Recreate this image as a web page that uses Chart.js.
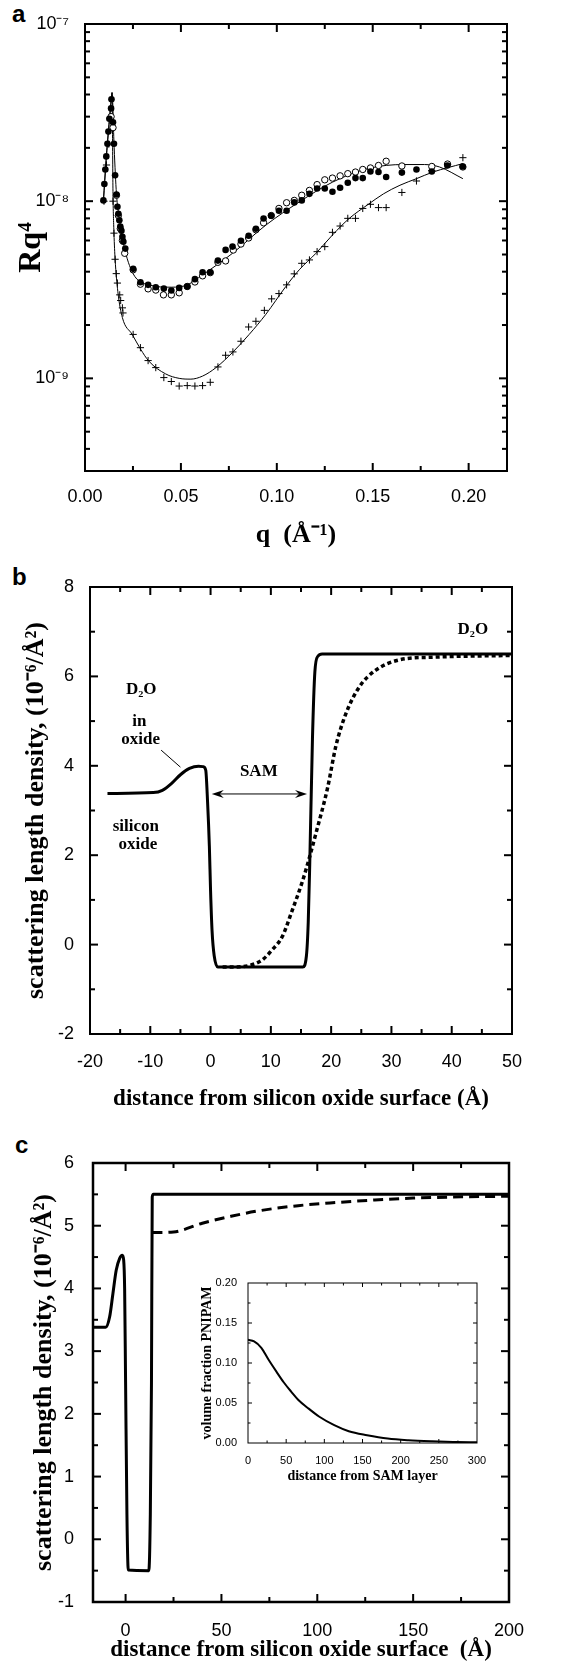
<!DOCTYPE html>
<html>
<head>
<meta charset="utf-8">
<script src="https://cdn.jsdelivr.net/npm/chart.js@4.4.1/dist/chart.umd.min.js"></script>
<style>
  html, body { margin: 0; padding: 0; background: #fff; overflow: hidden; width: 584px; height: 1661px; }
  canvas { position: absolute; }
  .tag { position: absolute; font: bold 24px "Liberation Sans", Arial, sans-serif; line-height: 24px; }
</style>
</head>
<body>
<div class="tag" style="left:12px;top:2px">a</div>
<div class="tag" style="left:12px;top:565px">b</div>
<div class="tag" style="left:15px;top:1133px">c</div>
<canvas id="panelA" width="584" height="560" style="left:0;top:0"></canvas>
<canvas id="panelB" width="584" height="560" style="left:0;top:560px"></canvas>
<canvas id="panelC" width="584" height="560" style="left:0;top:1120px"></canvas>
<canvas id="inset" width="320" height="220" style="left:180px;top:1270px"></canvas>
<script>
/* global Chart */

// ---- panel a : Rq^4 vs q ----
var filledQ = [0.0096, 0.0101, 0.0106, 0.0111, 0.0117, 0.0122, 0.0127, 0.0136, 0.0138, 0.0146, 0.0151, 0.0157, 0.0164, 0.0169, 0.0174, 0.0179, 0.0184, 0.019, 0.0195, 0.02, 0.021, 0.0251, 0.0289, 0.0329, 0.0369, 0.0411, 0.045, 0.0491, 0.0533, 0.0573, 0.0613, 0.0653, 0.0693, 0.0733, 0.0769, 0.0813, 0.0853, 0.0891, 0.0931, 0.0971, 0.1011, 0.1051, 0.1091, 0.113, 0.117, 0.121, 0.125, 0.129, 0.133, 0.137, 0.141, 0.1448, 0.1488, 0.153, 0.157, 0.1652, 0.1728, 0.1808, 0.1889, 0.1969];
var filledR = [1.01e-8, 1.25e-8, 1.51e-8, 1.79e-8, 2.11e-8, 2.47e-8, 2.92e-8, 3.34e-8, 3.76e-8, 2.79e-8, 2.11e-8, 1.40e-8, 1.09e-8, 9.3e-9, 8.5e-9, 7.8e-9, 7.2e-9, 6.8e-9, 6.3e-9, 5.9e-9, 5.4e-9, 4.15e-9, 3.49e-9, 3.37e-9, 3.27e-9, 3.21e-9, 3.13e-9, 3.24e-9, 3.30e-9, 3.63e-9, 3.97e-9, 3.97e-9, 4.62e-9, 5.31e-9, 5.54e-9, 5.98e-9, 6.38e-9, 6.99e-9, 7.99e-9, 8.27e-9, 8.83e-9, 8.83e-9, 9.84e-9, 1.01e-8, 1.10e-8, 1.18e-8, 1.18e-8, 1.13e-8, 1.19e-8, 1.27e-8, 1.35e-8, 1.35e-8, 1.47e-8, 1.46e-8, 1.37e-8, 1.45e-8, 1.51e-8, 1.47e-8, 1.59e-8, 1.57e-8];

var openQ = [0.0136, 0.0146, 0.0164, 0.0174, 0.0184, 0.0195, 0.0207, 0.0251, 0.0289, 0.0329, 0.0369, 0.0409, 0.045, 0.0491, 0.0533, 0.0573, 0.0613, 0.0653, 0.0693, 0.0733, 0.0773, 0.0813, 0.0853, 0.0891, 0.0931, 0.0971, 0.1011, 0.1051, 0.1091, 0.113, 0.117, 0.121, 0.125, 0.129, 0.133, 0.137, 0.141, 0.1448, 0.1488, 0.153, 0.157, 0.1652, 0.1808, 0.189, 0.197];
var openR = [3.0e-8, 2.6e-8, 1.08e-8, 8.3e-9, 7.0e-9, 6.0e-9, 5.08e-9, 4.1e-9, 3.4e-9, 3.2e-9, 3.15e-9, 2.96e-9, 2.96e-9, 3.04e-9, 3.3e-9, 3.5e-9, 3.79e-9, 3.95e-9, 4.52e-9, 4.6e-9, 5.3e-9, 5.73e-9, 6.2e-9, 6.9e-9, 7.55e-9, 8.3e-9, 9.1e-9, 9.8e-9, 1.01e-8, 1.08e-8, 1.15e-8, 1.24e-8, 1.32e-8, 1.35e-8, 1.39e-8, 1.43e-8, 1.46e-8, 1.51e-8, 1.54e-8, 1.59e-8, 1.68e-8, 1.58e-8, 1.57e-8, 1.62e-8, 1.56e-8];

var plusQ = [0.0099, 0.0112, 0.0124, 0.0146, 0.0151, 0.0157, 0.0163, 0.0169, 0.0181, 0.0186, 0.0195, 0.0198, 0.0251, 0.0289, 0.0329, 0.0369, 0.0411, 0.045, 0.0491, 0.0533, 0.0573, 0.0613, 0.0653, 0.0693, 0.0733, 0.0771, 0.0813, 0.0853, 0.0891, 0.0935, 0.0973, 0.1011, 0.1051, 0.1091, 0.113, 0.117, 0.121, 0.125, 0.129, 0.133, 0.137, 0.141, 0.1448, 0.1488, 0.153, 0.157, 0.1652, 0.1728, 0.1808, 0.189, 0.197];
var plusR = [1.0e-8, 1.6e-8, 2.1e-8, 1.0e-8, 6.6e-9, 4.7e-9, 3.9e-9, 3.45e-9, 2.96e-9, 2.75e-9, 2.5e-9, 2.34e-9, 1.77e-9, 1.49e-9, 1.26e-9, 1.15e-9, 1.01e-9, 9.6e-10, 9.05e-10, 9.1e-10, 9.05e-10, 9.1e-10, 9.5e-10, 1.16e-9, 1.35e-9, 1.41e-9, 1.62e-9, 1.95e-9, 2.1e-9, 2.42e-9, 2.81e-9, 3.01e-9, 3.37e-9, 3.89e-9, 4.46e-9, 4.66e-9, 5.19e-9, 5.54e-9, 6.67e-9, 7.24e-9, 8.0e-9, 8.0e-9, 9.1e-9, 9.6e-9, 9.2e-9, 9.2e-9, 1.12e-8, 1.3e-8, 1.49e-8, 1.61e-8, 1.76e-8];

var fitCircleQ = [0.0096, 0.011, 0.0125, 0.0136, 0.0141, 0.0152, 0.0164, 0.0179, 0.0203, 0.0249, 0.0333, 0.0452, 0.0533, 0.0613, 0.0769, 0.0943, 0.1117, 0.129, 0.1477, 0.1664, 0.177, 0.1848, 0.197];
var fitCircleR = [1.0e-8, 1.7e-8, 2.7e-8, 3.6e-8, 4.1e-8, 2.0e-8, 1.1e-8, 8.0e-9, 5.6e-9, 3.93e-9, 3.37e-9, 3.27e-9, 3.37e-9, 3.84e-9, 5.08e-9, 7.33e-9, 9.9e-9, 1.28e-8, 1.53e-8, 1.61e-8, 1.61e-8, 1.56e-8, 1.34e-8];

var fitPlusQ = [0.0096, 0.011, 0.0125, 0.0136, 0.0141, 0.0146, 0.0151, 0.0157, 0.0171, 0.0195, 0.0246, 0.029, 0.0333, 0.042, 0.0491, 0.0552, 0.0613, 0.0683, 0.0769, 0.0856, 0.0943, 0.1047, 0.1117, 0.1204, 0.129, 0.1378, 0.1477, 0.1556, 0.1642, 0.1728, 0.1814, 0.197];
var fitPlusR = [1.0e-8, 1.7e-8, 2.7e-8, 3.7e-8, 4.1e-8, 1.1e-8, 6.6e-9, 4.7e-9, 3.1e-9, 2.2e-9, 1.77e-9, 1.46e-9, 1.25e-9, 1.06e-9, 1.0e-9, 9.9e-10, 1.03e-9, 1.15e-9, 1.4e-9, 1.77e-9, 2.3e-9, 3.3e-9, 4.1e-9, 5.08e-9, 6.44e-9, 8.0e-9, 9.6e-9, 1.1e-8, 1.23e-8, 1.34e-8, 1.46e-8, 1.63e-8];

// ---- panel b : SLD profile of the SAM ----
var samSolidX = [-17.1, -9.5, -8, -6.5, -5, -3.5, -2, -1.2, -0.8, -0.5, -0.2, 0, 0.25, 0.6, 1.2, 15.3, 15.9, 16.2, 16.45, 16.9, 17.3, 17.8, 18.5, 50];
var samSolidY = [3.38, 3.4, 3.45, 3.6, 3.8, 3.94, 3.99, 3.98, 3.9, 3.2, 2.2, 1.2, 0.3, -0.25, -0.5, -0.5, -0.25, 0.5, 1.8, 4.6, 6.1, 6.45, 6.5, 6.5];
var samDotX = [2.0, 4.0, 6.3, 8.5, 10.2, 11.9, 13.5, 15.2, 16.3, 17.4, 19.4, 20.8, 22.4, 24.7, 27.4, 31.3, 36.9, 50];
var samDotY = [-0.5, -0.5, -0.47, -0.35, -0.12, 0.18, 0.75, 1.4, 1.9, 2.45, 3.5, 4.45, 5.15, 5.77, 6.14, 6.37, 6.43, 6.47];

var notesB = [
  { text: "D₂O", x: 43.5, y: 7.04 },
  { text: "D₂O", x: -11.5, y: 5.7 },
  { text: "in", x: -11.8, y: 4.98 },
  { text: "oxide", x: -11.6, y: 4.58 },
  { text: "silicon", x: -12.4, y: 2.63 },
  { text: "oxide", x: -12.05, y: 2.23 },
  { text: "SAM", x: 8, y: 3.88 }
];
var samArrow = { from: 0.2, to: 16, y: 3.37 };
var leaderB = { x1: -8.2, y1: 4.35, x2: -5.0, y2: 3.97 };

// ---- panel c : SLD profile with PNIPAM ----
var polySolidX = [-17, -10.4, -8.3, -6.6, -4.9, -3.1, -1.7, -1.0, -0.5, 0, 0.7, 1.4, 12.1, 12.9, 13.5, 13.9, 14.5, 200];
var polySolidY = [3.38, 3.38, 3.55, 3.92, 4.29, 4.48, 4.53, 4.45, 4.0, 2.5, 0.4, -0.49, -0.5, 0.4, 2.5, 5.46, 5.5, 5.5];
var polyDashX = [14, 25, 40, 55, 70, 90, 110, 130, 150, 175, 200];
var polyDashY = [4.89, 4.9, 5.04, 5.15, 5.24, 5.32, 5.37, 5.41, 5.44, 5.46, 5.47];

// ---- inset : volume fraction PNIPAM ----
var insetX = [0, 8, 17.5, 27, 37, 47, 56.5, 66, 78, 93.5, 113, 132, 156, 183, 210, 241, 273, 300];
var insetY = [0.129, 0.127, 0.119, 0.104, 0.0895, 0.0756, 0.0643, 0.0538, 0.0441, 0.0328, 0.0223, 0.0147, 0.0097, 0.0055, 0.0034, 0.0021, 0.0013, 0.0008];

var SANS = '"Liberation Sans", Arial, sans-serif';
var SERIF = '"Liberation Serif", "Times New Roman", serif';
Chart.defaults.color = "#000";
Chart.defaults.animation = false;

var SUP = { "-": "⁻", "0": "⁰", "1": "¹", "2": "²", "3": "³", "4": "⁴", "5": "⁵", "6": "⁶", "7": "⁷", "8": "⁸", "9": "⁹" };
function sup(s) {
  return String(s).split("").map((c) => SUP[c]).join("");
}
function pts(xs, ys) {
  return xs.map((x, i) => ({ x: x, y: ys[i] }));
}
function isMultiple(v, step) {
  var r = v / step;
  return Math.abs(r - Math.round(r)) < 1e-6;
}
function serifTitle(text, size, pad) {
  return { display: true, text: text, font: { family: SERIF, weight: "bold", size: size }, padding: pad };
}

// linear axis: labels only on major steps, minor steps get short ticks
function linearAxis(o) {
  return {
    type: "linear",
    position: o.position,
    min: o.min,
    max: o.max,
    grid: { display: false },
    border: { display: false },
    ticks: {
      stepSize: o.step,
      autoSkip: false,
      includeBounds: false,
      maxRotation: 0,
      padding: o.pad,
      font: { family: SANS, size: o.font },
      callback: (v) => (isMultiple(v, o.major) ? (Math.abs(v) < 1e-9 ? 0 : v).toFixed(o.digits) : "")
    },
    title: o.title,
    afterFit: (s) => {
      if (s.isHorizontal()) s.height = o.size;
      else s.width = o.size;
    }
  };
}

// tick values of an axis: [value, isMajor] pairs, from the scale range
function tickMarks(s, step, major) {
  var out = [];
  if (s.type === "logarithmic") {
    var e0 = Math.floor(Math.log10(s.min));
    var e1 = Math.ceil(Math.log10(s.max));
    for (var e = e0; e <= e1; e++) {
      for (var m = 1; m < 10; m++) out.push([m * Math.pow(10, e), m === 1]);
    }
    return out;
  }
  var first = Math.ceil(s.min / step - 1e-9);
  var last = Math.floor(s.max / step + 1e-9);
  for (var k = first; k <= last; k++) out.push([k * step, isMultiple(k * step, major)]);
  return out;
}

// box frame with inward ticks on all four sides (ticks as small filled bars)
var frameTicks = {
  id: "frameTicks",
  afterDraw(chart, args, opts) {
    var ctx = chart.ctx;
    var a = chart.chartArea;
    var xs = chart.scales.x;
    var ys = chart.scales.y;
    var w = opts.tick;
    ctx.save();
    ctx.setLineDash([]);
    ctx.fillStyle = "#000";
    tickMarks(xs, opts.xStep, opts.xMajor).forEach((t) => {
      var p = xs.getPixelForValue(t[0]);
      if (!(p > a.left + 1 && p < a.right - 1)) return;
      var len = t[1] ? opts.major : opts.minor;
      ctx.fillRect(p - w / 2, a.bottom - len, w, len);
      ctx.fillRect(p - w / 2, a.top, w, len);
    });
    tickMarks(ys, opts.yStep, opts.yMajor).forEach((t) => {
      var p = ys.getPixelForValue(t[0]);
      if (!(p > a.top + 1 && p < a.bottom - 1)) return;
      var len = t[1] ? opts.major : opts.minor;
      ctx.fillRect(a.left, p - w / 2, len, w);
      ctx.fillRect(a.right - len, p - w / 2, len, w);
    });
    ctx.strokeStyle = "#000";
    ctx.lineWidth = opts.frame;
    ctx.strokeRect(a.left, a.top, a.right - a.left, a.bottom - a.top);
    ctx.restore();
  }
};

// text notes, SAM arrow and leader line of panel b
var notesPlugin = {
  id: "notesB",
  afterDatasetsDraw(chart) {
    var ctx = chart.ctx;
    var xs = chart.scales.x;
    var ys = chart.scales.y;
    ctx.save();
    ctx.setLineDash([]);
    ctx.fillStyle = "#000";
    ctx.strokeStyle = "#000";
    ctx.font = "bold 17px " + SERIF;
    ctx.textAlign = "center";
    ctx.textBaseline = "middle";
    notesB.forEach((n) => ctx.fillText(n.text, xs.getPixelForValue(n.x), ys.getPixelForValue(n.y)));

    ctx.lineWidth = 1;
    ctx.beginPath();
    ctx.moveTo(xs.getPixelForValue(leaderB.x1), ys.getPixelForValue(leaderB.y1));
    ctx.lineTo(xs.getPixelForValue(leaderB.x2), ys.getPixelForValue(leaderB.y2));
    ctx.stroke();

    var x1 = xs.getPixelForValue(samArrow.from);
    var x2 = xs.getPixelForValue(samArrow.to);
    var y = ys.getPixelForValue(samArrow.y);
    ctx.beginPath();
    ctx.moveTo(x1 + 6, y);
    ctx.lineTo(x2 - 6, y);
    ctx.stroke();
    [[x1, 1], [x2, -1]].forEach((h) => {
      ctx.beginPath();
      ctx.moveTo(h[0], y);
      ctx.lineTo(h[0] + h[1] * 12, y - 4);
      ctx.lineTo(h[0] + h[1] * 8, y);
      ctx.lineTo(h[0] + h[1] * 12, y + 4);
      ctx.closePath();
      ctx.fill();
    });
    ctx.restore();
  }
};

var quiet = { legend: { display: false }, tooltip: { enabled: false } };

// panel a
new Chart(document.getElementById("panelA"), {
  type: "scatter",
  data: {
    datasets: [
      { data: pts(filledQ, filledR), pointRadius: 3.3, backgroundColor: "#000", borderColor: "#000", borderWidth: 0 },
      { data: pts(openQ, openR), pointRadius: 3.2, backgroundColor: "#fff", borderColor: "#000", borderWidth: 1 },
      { data: pts(plusQ, plusR), pointStyle: "cross", pointRadius: 3.6, borderColor: "#000", borderWidth: 1 },
      { data: pts(fitCircleQ, fitCircleR), showLine: true, pointRadius: 0, borderColor: "#000", borderWidth: 1, cubicInterpolationMode: "monotone" },
      { data: pts(fitPlusQ, fitPlusR), showLine: true, pointRadius: 0, borderColor: "#000", borderWidth: 1, cubicInterpolationMode: "monotone" }
    ]
  },
  options: {
    responsive: false,
    layout: { padding: { left: 0, top: 24, right: 77, bottom: 0 } },
    scales: {
      x: linearAxis({ position: "bottom", min: 0, max: 0.22, step: 0.025, major: 0.05, digits: 2, font: 18, pad: 7, size: 89,
        title: serifTitle("q  (Å⁻¹)", 26, { bottom: 9 }) }),
      y: {
        type: "logarithmic",
        min: 3e-10,
        max: 1e-7,
        grid: { display: false },
        border: { display: false },
        ticks: {
          autoSkip: false,
          padding: 8,
          font: { family: SANS, size: 18 },
          callback: (v) => {
            var e = Math.log10(v);
            return Math.abs(e - Math.round(e)) < 1e-6 ? "10" + sup(Math.round(e)) : "";
          }
        },
        title: serifTitle("Rq⁴", 32, { top: 13 }),
        afterFit: (s) => { s.width = 85; }
      }
    },
    plugins: Object.assign({ frameTicks: { xStep: 0.025, xMajor: 0.05, major: 8, minor: 5, tick: 2, frame: 2 } }, quiet)
  },
  plugins: [frameTicks]
});

// panel b
new Chart(document.getElementById("panelB"), {
  type: "scatter",
  data: {
    datasets: [
      { data: pts(samSolidX, samSolidY), showLine: true, pointRadius: 0, borderColor: "#000", borderWidth: 3, cubicInterpolationMode: "monotone" },
      { data: pts(samDotX, samDotY), showLine: true, pointRadius: 0, borderColor: "#000", borderWidth: 3.5, borderDash: [4, 3], cubicInterpolationMode: "monotone" }
    ]
  },
  options: {
    responsive: false,
    layout: { padding: { left: 0, top: 27, right: 72, bottom: 0 } },
    scales: {
      x: linearAxis({ position: "bottom", min: -20, max: 50, step: 5, major: 10, digits: 0, font: 18, pad: 9, size: 86,
        title: serifTitle("distance from silicon oxide surface (Å)", 23, { bottom: 7 }) }),
      y: linearAxis({ position: "left", min: -2, max: 8, step: 1, major: 2, digits: 0, font: 18, pad: 8, size: 90,
        title: serifTitle("scattering length density, (10⁻⁶/Å²)", 26, { top: 21 }) })
    },
    plugins: Object.assign({ frameTicks: { xStep: 5, xMajor: 10, yStep: 1, yMajor: 2, major: 8, minor: 5, tick: 2, frame: 2 } }, quiet)
  },
  plugins: [frameTicks, notesPlugin]
});

// panel c
new Chart(document.getElementById("panelC"), {
  type: "scatter",
  data: {
    datasets: [
      { data: pts(polySolidX, polySolidY), showLine: true, pointRadius: 0, borderColor: "#000", borderWidth: 3, cubicInterpolationMode: "monotone" },
      { data: pts(polyDashX, polyDashY), showLine: true, pointRadius: 0, borderColor: "#000", borderWidth: 3, borderDash: [10, 6], cubicInterpolationMode: "monotone" }
    ]
  },
  options: {
    responsive: false,
    layout: { padding: { left: 0, top: 43, right: 75, bottom: 0 } },
    scales: {
      x: linearAxis({ position: "bottom", min: -17, max: 200, step: 25, major: 50, digits: 0, font: 18, pad: 10, size: 78,
        title: serifTitle("distance from silicon oxide surface  (Å)", 23, { bottom: 16 }) }),
      y: linearAxis({ position: "left", min: -1, max: 6, step: 0.5, major: 1, digits: 0, font: 18, pad: 11, size: 93,
        title: serifTitle("scattering length density, (10⁻⁶/Å²)", 26, { top: 29 }) })
    },
    plugins: Object.assign({ frameTicks: { xStep: 25, xMajor: 50, yStep: 0.5, yMajor: 1, major: 8, minor: 5, tick: 2, frame: 2.5 } }, quiet)
  },
  plugins: [frameTicks]
});

// inset of panel c
new Chart(document.getElementById("inset"), {
  type: "scatter",
  data: {
    datasets: [
      { data: pts(insetX, insetY), showLine: true, pointRadius: 0, borderColor: "#000", borderWidth: 2, cubicInterpolationMode: "monotone" }
    ]
  },
  options: {
    responsive: false,
    layout: { padding: { left: 0, top: 13, right: 23, bottom: 0 } },
    scales: {
      x: linearAxis({ position: "bottom", min: 0, max: 300, step: 25, major: 50, digits: 0, font: 11, pad: 3, size: 47,
        title: serifTitle("distance from SAM layer", 14, { bottom: 5 }) }),
      y: linearAxis({ position: "left", min: 0, max: 0.2, step: 0.025, major: 0.05, digits: 2, font: 11, pad: 3, size: 68,
        title: serifTitle("volume fraction PNIPAM", 14, { top: 19 }) })
    },
    plugins: Object.assign({ frameTicks: { xStep: 25, xMajor: 50, yStep: 0.025, yMajor: 0.05, major: 4, minor: 2.5, tick: 1, frame: 1 } }, quiet)
  },
  plugins: [frameTicks]
});
</script>
</body>
</html>
